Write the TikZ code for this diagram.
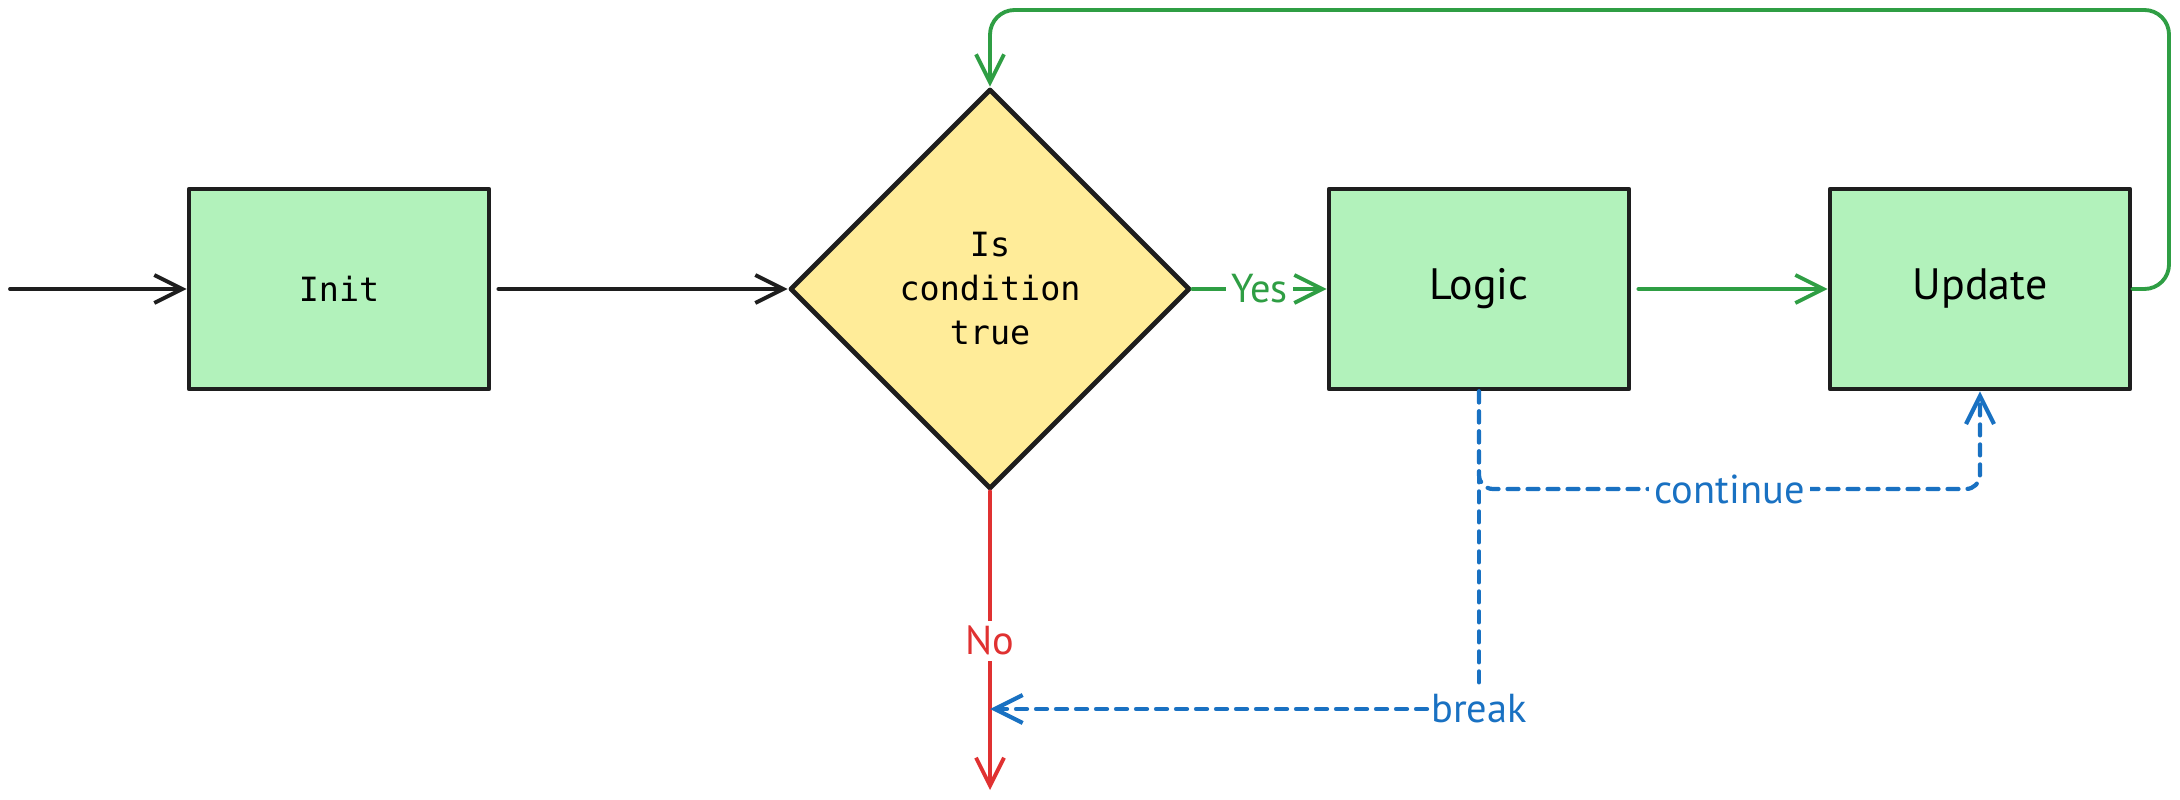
\documentclass[tikz,border=0pt]{standalone}
\usepackage{fontspec}
\setmainfont{PT Sans}
\newfontfamily\codefont{DejaVu Sans Mono}
\usetikzlibrary{arrows.meta,shapes.geometric}

\definecolor{ink}{HTML}{1E1E1E}
\definecolor{boxgreen}{HTML}{B2F2BB}
\definecolor{boxyellow}{HTML}{FFEC99}
\definecolor{flowgreen}{HTML}{2F9E44}
\definecolor{flowred}{HTML}{E03131}
\definecolor{flowblue}{HTML}{1971C2}

\begin{document}
\begin{tikzpicture}[line cap=round, line join=round,
  >={Straight Barb[length=2.8mm,width=2.8mm]},
  stepbox/.style={draw=ink, line width=1.35pt, fill=boxgreen, minimum width=3cm,
    minimum height=2cm, inner sep=0pt, font=\fontsize{12.5}{15}\selectfont},
  testbox/.style={diamond, aspect=1, draw=ink, line width=1.35pt, fill=boxyellow,
    minimum width=4cm, minimum height=4cm, inner sep=0pt, align=center,
    font=\codefont\fontsize{9.5}{12.5}\selectfont},
  flow/.style={->, line width=1.1pt},
  dashflow/.style={->, line width=1.2pt, flowblue, dash pattern=on 1.1mm off 0.9mm},
  edgelabel/.style={fill=white, inner sep=1.5pt, font=\fontsize{11.5}{13}\selectfont}]

% --- Canvas (fixes the margins) ---
\useasboundingbox (0,0) rectangle (21.8,-8);

% --- Main row ---
\def\rowy{-2.89}
\node[stepbox, font=\codefont\fontsize{9.5}{12}\selectfont] (init) at (3.39,\rowy) {Init};
\node[testbox] (cond) at (9.9,\rowy) {Is\\condition\\true};
\node[stepbox] (logic) at (14.79,\rowy) {Logic};
\node[stepbox] (update) at (19.8,\rowy) {Update};

% --- Free ends and bends ---
\coordinate (start) at (0.1,\rowy);
\coordinate (exit) at (9.9,-7.9);
\coordinate (loopR) at (21.69,-0.1);
\coordinate (brkhit) at (9.9,-7.09);
\coordinate (contR) at (19.8,-4.89);
\node[edgelabel, text=flowblue, inner sep=1pt] (brk) at (14.79,-7.09) {break};

% --- Black entry arrows ---
\draw[flow, ink] (start) -- (init);
\draw[flow, ink, shorten <=2pt] (init) -- (cond);

% --- Green: true branch and loop back ---
\draw[flow, flowgreen] (cond) -- node[edgelabel, text=flowgreen] {Yes} (logic);
\draw[flow, flowgreen, shorten <=2pt] (logic) -- (update);
\draw[flow, flowgreen, rounded corners=7pt] (update.east) -| (loopR) -| (cond.north);

% --- Red: false branch ---
\draw[flow, flowred] (cond.south) -- node[edgelabel, text=flowred] {No} (exit);

% --- Blue: break / continue ---
\draw[dashflow, -] (logic.south) -- (brk);
\draw[dashflow] (brk) -- (brkhit);
\draw[dashflow, rounded corners=4pt] (logic.south) |- node[pos=0.75, edgelabel, text=flowblue] {continue} (contR) -- (update.south);

\end{tikzpicture}
\end{document}
